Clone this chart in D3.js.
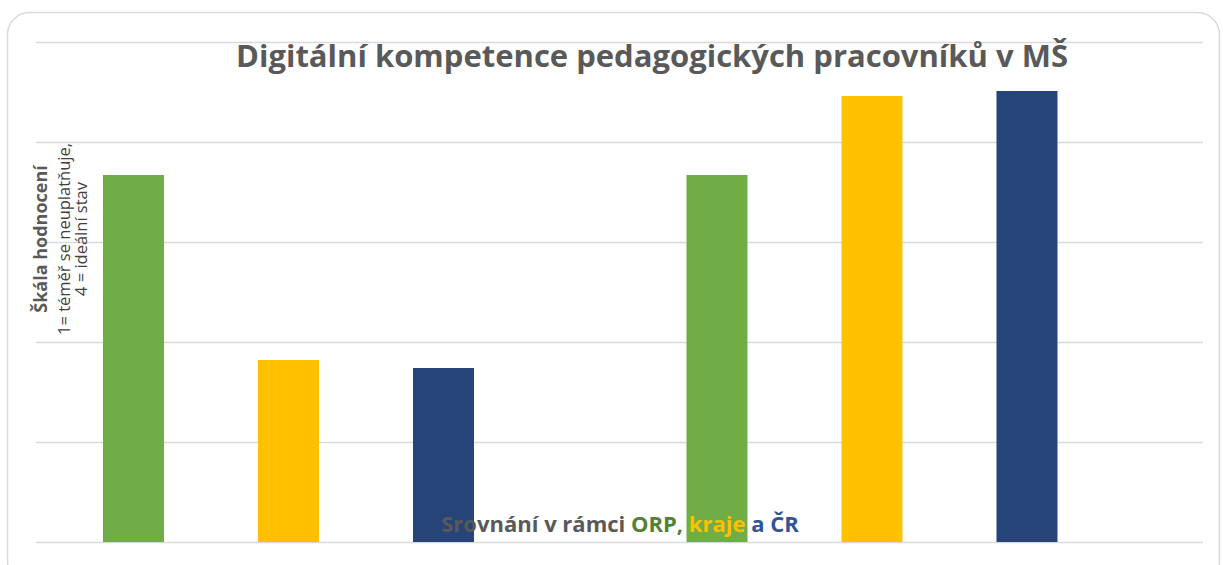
<!DOCTYPE html>
<html>
<meta charset="utf-8">
<title>Digitální kompetence</title>
<style>
body { margin: 0; background: #fff; }
svg { display: block; }
text { font-family: "Open Sans", sans-serif; }
.grid line { stroke: #d9d9d9; stroke-width: 1.5px; }
.grid .domain { display: none; }
</style>
<script src="https://d3js.org/d3.v7.min.js"></script>
<body>
<script>
// chart data
const categories = ["A", "B"];
const series = ["ORP", "kraj", "ČR"];
const colors = ["#70ad47", "#ffc000", "#264478"];
const values = [
  [3.67, 1.82, 1.74],
  [3.67, 4.46, 4.51]
];
const yTicks = [0, 1, 2, 3, 4, 5];
const title = "Digitální kompetence pedagogických pracovníků v MŠ";
const yTitle = ["Škála hodnocení", "1= téměř se neuplatňuje,", "4 = ideální stav"];
const xTitleParts = [
  {t: "Srovnání v rámci ", c: "#595959"},
  {t: "ORP, ", c: "#548235"},
  {t: "kraje", c: "#ffc000"},
  {t: " a ČR", c: "#2f5597"}
];

const W = 1223, H = 565;
const plot = {left: 36, right: 1203, top: 42, bottom: 542};

const svg = d3.select("body").append("svg")
    .attr("width", W)
    .attr("height", H);

svg.append("rect")
    .attr("x", 7.5).attr("y", 12.5)
    .attr("width", 1212).attr("height", 570)
    .attr("rx", 22)
    .attr("fill", "#fff")
    .attr("stroke", "#d9d9d9")
    .attr("stroke-width", 1.5);

const y = d3.scaleLinear()
    .domain([0, 5])
    .range([plot.bottom, plot.top]);

const x0 = d3.scaleBand()
    .domain(categories)
    .range([plot.left, plot.right]);

const bw = x0.bandwidth();
const x1 = d3.scaleBand()
    .domain(series)
    .range([bw * 0.1148, bw * 0.7506])
    .paddingInner(0.6065)
    .paddingOuter(0);

svg.append("g")
    .attr("class", "grid")
    .call(d3.axisLeft(y).tickValues(yTicks).tickSize(-(plot.right - plot.left)).tickFormat(""))
    .attr("transform", `translate(${plot.left},0)`);

const groups = svg.append("g").selectAll("g")
  .data(values)
  .join("g")
    .attr("transform", (d, i) => `translate(${x0(categories[i])},0)`);

groups.selectAll("rect")
  .data(d => d.map((v, j) => ({s: series[j], v, c: colors[j]})))
  .join("rect")
    .attr("x", d => x1(d.s))
    .attr("width", x1.bandwidth())
    .attr("y", d => y(d.v))
    .attr("height", d => y(0) - y(d.v))
    .attr("fill", d => d.c);

svg.append("text")
    .attr("x", 652)
    .attr("y", 67)
    .attr("text-anchor", "middle")
    .attr("font-size", 31)
    .attr("font-weight", 700)
    .attr("fill", "#595959")
    .text(title);

const yt = svg.append("text")
    .attr("transform", "translate(0,239) rotate(-90)")
    .attr("text-anchor", "middle")
    .attr("fill", "#595959");
yt.append("tspan").attr("x", 0).attr("y", 47).attr("font-size", 18).attr("font-weight", 700).text(yTitle[0]);
yt.append("tspan").attr("x", 0).attr("y", 70).attr("font-size", 16.5).attr("fill", "#404040").text(yTitle[1]);
yt.append("tspan").attr("x", 0).attr("y", 87).attr("font-size", 16.5).attr("fill", "#404040").text(yTitle[2]);

const xt = svg.append("text")
    .attr("x", 620)
    .attr("y", 532)
    .attr("text-anchor", "middle")
    .attr("font-size", 22)
    .attr("font-weight", 700);
xt.selectAll("tspan")
  .data(xTitleParts)
  .join("tspan")
    .attr("fill", d => d.c)
    .text(d => d.t);
</script>
</body>
</html>
